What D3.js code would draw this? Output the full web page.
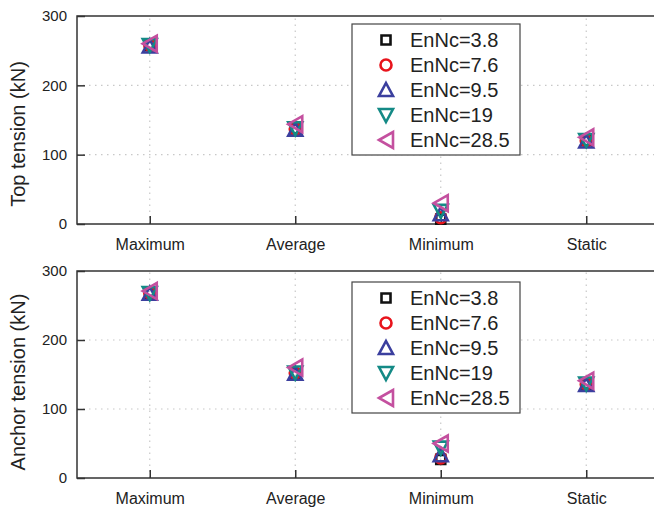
<!DOCTYPE html>
<html>
<head>
<meta charset="UTF-8">
<script src="https://cdn.jsdelivr.net/npm/d3@7"></script>
<style>
body{margin:0;background:#fff;}
text{font-family:"Liberation Sans",Arial,sans-serif;}
</style>
</head>
<body>
<script>

var categories = ["Maximum", "Average", "Minimum", "Static"];
var seriesNames = ["EnNc=3.8", "EnNc=7.6", "EnNc=9.5", "EnNc=19", "EnNc=28.5"];
var yTicks = [0, 100, 200, 300];

// top tension, one row per series, values per category
var topTension = [
    [257, 137, 7, 120],
    [258, 137, 9, 120],
    [256, 136, 14, 119],
    [258, 138, 19, 121],
    [260, 144, 30, 125]
];
// anchor tension
var anchorTension = [
    [268, 151, 27, 136],
    [268, 152, 29, 136],
    [267, 151, 33, 135],
    [268, 153, 44, 137],
    [271, 160, 50, 141]
];

var colors = ["#111111", "#e8141c", "#3b3f9e", "#148a86", "#c4509f"];
var shapes = ["square", "circle", "up", "down", "left"];

var width = 654, height = 507;

var svg = d3.select("body").append("svg")
    .attr("width", width)
    .attr("height", height);

var x = d3.scaleLinear().domain([-0.5, 3.5]).range([77, 659]);

function markerPath(shape) {
    if (shape == "square") return "M-4.5,-4.5H4.5V4.5H-4.5Z";
    if (shape == "circle") return "M-5.5,0A5.5,5.5 0 1,0 5.5,0A5.5,5.5 0 1,0 -5.5,0Z";
    if (shape == "up") return "M0,-7L7,6H-7Z";
    if (shape == "down") return "M0,7L7,-6H-7Z";
    if (shape == "left") return "M-7,0L7,-8V8Z";
}

function panel(top, bottom, data, label, labelY, legendTop) {
    var y = d3.scaleLinear().domain([0, 300]).range([bottom, top]);
    var g = svg.append("g");

    // grid
    g.selectAll(".gy").data([100, 200]).enter().append("line")
        .attr("x1", x(-0.5)).attr("x2", x(3.5))
        .attr("y1", d => y(d)).attr("y2", d => y(d))
        .attr("stroke", "#c8c8c8").attr("stroke-width", 1.2)
        .attr("stroke-dasharray", "1.5,4.5");
    g.selectAll(".gx").data(categories).enter().append("line")
        .attr("x1", (d, i) => x(i)).attr("x2", (d, i) => x(i))
        .attr("y1", y(0)).attr("y2", y(300))
        .attr("stroke", "#c8c8c8").attr("stroke-width", 1.2)
        .attr("stroke-dasharray", "1.5,4.5");

    // frame
    g.append("rect")
        .attr("x", x(-0.5)).attr("y", y(300))
        .attr("width", x(3.5) - x(-0.5)).attr("height", y(0) - y(300))
        .attr("fill", "none").attr("stroke", "#333").attr("stroke-width", 1.5);

    var yAxis = g.append("g")
        .attr("transform", "translate(" + x(-0.5) + ",0)")
        .call(d3.axisLeft(y).tickValues(yTicks).tickSize(-8).tickPadding(10));
    yAxis.select(".domain").remove();
    yAxis.selectAll("line").attr("stroke", "#333").attr("stroke-width", 1.5);
    yAxis.selectAll("text").attr("font-size", 15).attr("fill", "#222")
        .style("font-family", "Liberation Sans, Arial, sans-serif");

    var xAxis = g.append("g")
        .attr("transform", "translate(0," + y(0) + ")")
        .call(d3.axisBottom(x).tickValues([0, 1, 2, 3]).tickFormat(i => categories[i]).tickSize(-8).tickPadding(15));
    xAxis.select(".domain").remove();
    xAxis.selectAll("line").attr("stroke", "#333").attr("stroke-width", 1.5);
    xAxis.selectAll("text").attr("font-size", 16).attr("fill", "#222")
        .style("font-family", "Liberation Sans, Arial, sans-serif");

    g.append("text")
        .attr("transform", "translate(25," + labelY + ") rotate(-90)")
        .attr("text-anchor", "middle")
        .attr("font-size", 20)
        .attr("fill", "#222")
        .text(label);

    // markers
    data.forEach(function(row, s) {
        g.selectAll(".m" + s).data(row).enter().append("path")
            .attr("d", markerPath(shapes[s]))
            .attr("transform", (d, i) => "translate(" + x(i) + "," + y(d) + ")")
            .attr("fill", "none")
            .attr("stroke", colors[s])
            .attr("stroke-width", 2.6);
    });

    // legend
    var lx = 352, lw = 168, lh = 131;
    g.append("rect")
        .attr("x", lx).attr("y", legendTop)
        .attr("width", lw).attr("height", lh)
        .attr("fill", "#fff").attr("stroke", "#444").attr("stroke-width", 1.2);
    seriesNames.forEach(function(name, s) {
        var ly = legendTop + 16 + s * 25;
        g.append("path")
            .attr("d", markerPath(shapes[s]))
            .attr("transform", "translate(" + (lx + 34) + "," + ly + ")")
            .attr("fill", "none")
            .attr("stroke", colors[s])
            .attr("stroke-width", 2.6);
        g.append("text")
            .attr("x", lx + 58).attr("y", ly + 7)
            .attr("font-size", 20)
            .attr("fill", "#222")
            .text(name);
    });
}

panel(16, 224, topTension, "Top tension (kN)", 134, 24);
panel(271, 478, anchorTension, "Anchor tension (kN)", 382, 282);

</script>
</body>
</html>
